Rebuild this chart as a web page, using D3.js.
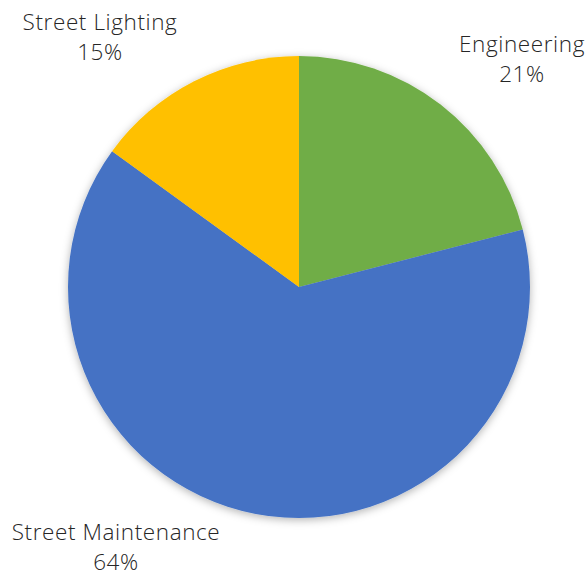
<!DOCTYPE html>
<html>
<head>
<meta charset="utf-8">
<script src="https://cdn.jsdelivr.net/npm/d3@7"></script>
<style>
  html, body { margin: 0; padding: 0; background: #fff; }
  svg { display: block; }
  text { font-family: "Open Sans", "Noto Sans", sans-serif; font-weight: 300; fill: #262626; }
</style>
</head>
<body>
<svg id="chart" width="587" height="576"></svg>
<script>
// Budget split by division
const categories = ["Engineering", "Street Maintenance", "Street Lighting"];
const shares = [21, 64, 15];
const colors = ["#70AD47", "#4472C4", "#FFC000"];
const labelSpots = [[522, 52], [116, 540], [100, 30]];

const svg = d3.select("#chart");
const cx = 299, cy = 287, r = 231;

const defs = svg.append("defs");
const f = defs.append("filter").attr("id", "soft").attr("x", "-20%").attr("y", "-20%").attr("width", "140%").attr("height", "140%");
f.append("feDropShadow").attr("dx", 0).attr("dy", 2).attr("stdDeviation", 4)
  .attr("flood-color", "#000").attr("flood-opacity", 0.3);

const pie = d3.pie().sort(null).value(d => d)(shares);
const arc = d3.arc().innerRadius(0).outerRadius(r);
const color = d3.scaleOrdinal().domain(categories).range(colors);

const g = svg.append("g").attr("transform", `translate(${cx},${cy})`).attr("filter", "url(#soft)");
g.selectAll("path").data(pie).join("path")
  .attr("d", arc)
  .attr("fill", (d, i) => color(categories[i]));

const labels = svg.append("g");
categories.forEach((c, i) => {
  const [x, y] = labelSpots[i];
  const t = labels.append("text").attr("x", x).attr("y", y).attr("text-anchor", "middle")
    .attr("font-size", 22.5).attr("letter-spacing", 0.6);
  t.append("tspan").attr("x", x).text(c);
  t.append("tspan").attr("x", x).attr("dy", 30).text(shares[i] + "%");
});
</script>
</body>
</html>
